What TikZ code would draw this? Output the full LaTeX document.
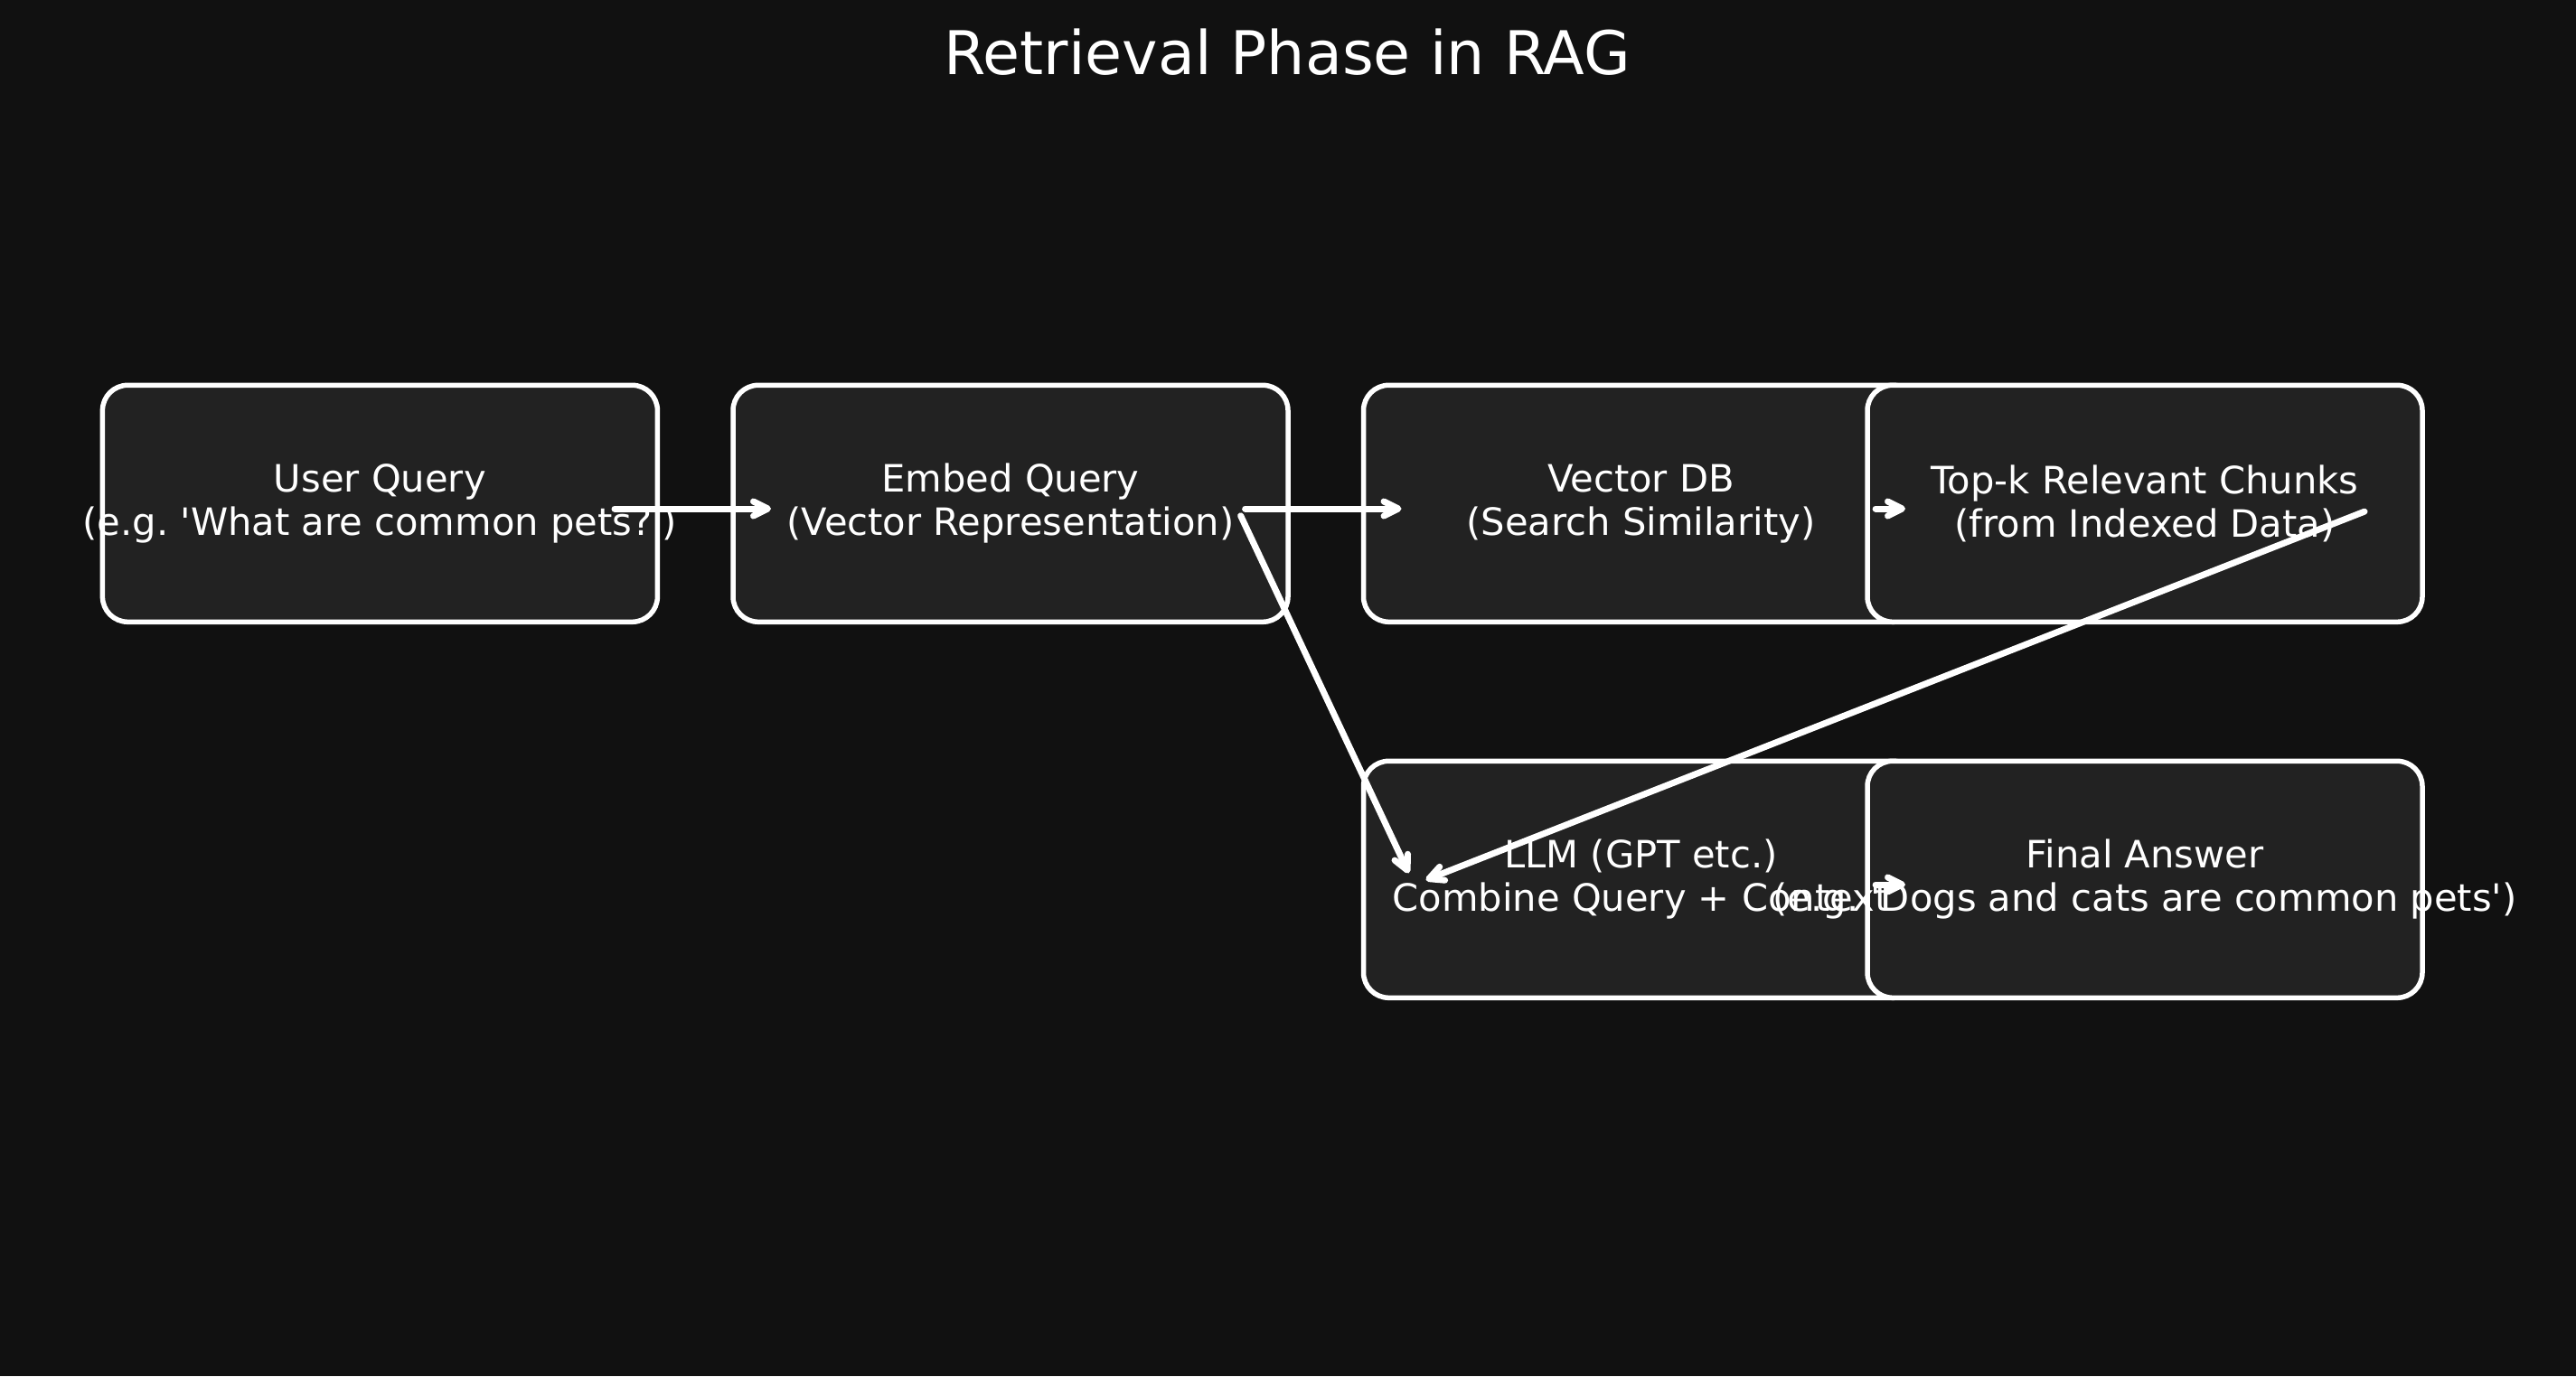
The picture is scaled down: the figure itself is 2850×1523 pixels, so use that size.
\documentclass[tikz,border=0pt]{standalone}
\usepackage{fontspec}
\setmainfont{DejaVu Sans}[Ligatures=TeXOff]
\usetikzlibrary{arrows.meta,calc}
\definecolor{bgcol}{HTML}{111111}
\definecolor{boxfill}{HTML}{222222}
\frenchspacing
\begin{document}
\begin{tikzpicture}[x=1pt,y=-1pt,
  stagebox/.style={rectangle, draw=white, fill=boxfill, line width=5.5pt, rounded corners=28pt,
    minimum width=614pt, minimum height=262pt, inner sep=0pt},
  stagetext/.style={text=white, align=center, inner sep=0pt, font=\frenchspacing\fontsize{41.67}{48}\selectfont},
  flow/.style={draw=white, line width=7pt, line cap=round, line join=round,
    -{Straight Barb[length=16pt,width=16pt,round]}, shorten <=8.6pt, shorten >=14pt}
]
\useasboundingbox (0,0) rectangle (2850,1523);
\fill[bgcol] (0,0) rectangle (2850,1523);

\node[text=white, anchor=base, font=\fontsize{66.67}{80}\selectfont] (title) at (1424,82) {Retrieval Phase in RAG};

% boxes
\node[stagebox] (uq)   at (420.4,557.3) {};
\node[stagebox] (eq)   at (1118,557.3) {};
\node[stagebox] (vdb)  at (1815.5,557.3) {};
\node[stagebox] (topk) at (2373,557.3) {};
\node[stagebox] (llm)  at (1815.5,973.3) {};
\node[stagebox] (fin)  at (2373,973.3) {};

% texts
\node[stagetext] (uqt)   at (uq.center)   {User Query\\(e.g. 'What are common pets?')};
\node[stagetext] (eqt)   at (eq.center)   {Embed Query\\(Vector Representation)};
\node[stagetext] (vdbt)  at (vdb.center)  {Vector DB\\(Search Similarity)};
\node[stagetext] (topkt) at (topk.center) {Top-k Relevant Chunks\\(from Indexed Data)};
\node[stagetext] (llmt)  at (llm.center)  {LLM (GPT etc.)\\Combine Query + Context};
\node[stagetext] (fint)  at (fin.center)  {Final Answer\\(e.g. 'Dogs and cats are common pets')};

% connector ends
\foreach \n in {uq,eq,vdb,topk,llm,fin}{
  \coordinate (\n-out) at ($(\n.center)+(251,5.7)$);
  \coordinate (\n-in)  at ($(\n.center)+(-251,5.7)$);
}

% connectors
\draw[flow] (uq-out) -- (eq-in);
\draw[flow] (eq-out) -- (vdb-in);
\draw[flow] (vdb-out) -- (topk-in);
\draw[flow] (eq-out) -- (llm-in);
\draw[flow] (topk-out) -- (llm-in);
\draw[flow] (llm-out) -- (fin-in);
\end{tikzpicture}
\end{document}
